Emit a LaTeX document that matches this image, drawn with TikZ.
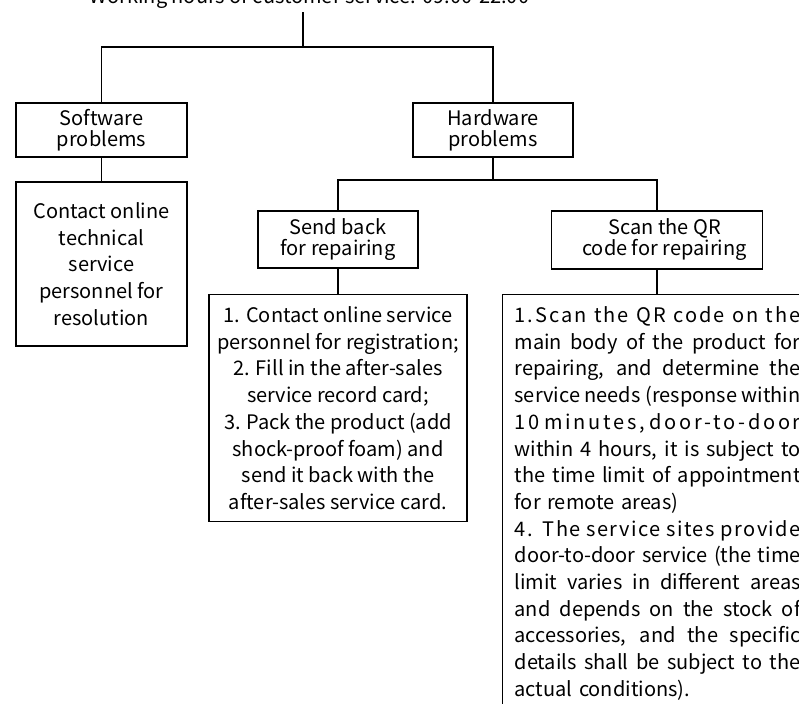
\documentclass[tikz,border=0pt]{standalone}
\usepackage{fontspec}
\setmainfont{Noto Sans CJK SC}
\usetikzlibrary{positioning}
\tikzset{box/.style = {draw, line width = 1.2, inner sep = 0, align = center,
                       font = \fontsize{20}{21}\selectfont}}
\tikzset{tallbox/.style = {box, font = \fontsize{20}{26.7}\selectfont}}
\tikzset{link/.style = {line width = 1.2}}
\newcommand{\spaced}[2]{{\addfontfeature{LetterSpace=#1}#2}}
\newcommand{\fillline}[1]{\makebox[286pt][s]{\spaceskip=\fontdimen2\font plus 1em\relax #1}}

\begin{document}
\begin{tikzpicture}[x = 1pt, y = -1pt]
    \useasboundingbox (0, 0) rectangle (799, 703);

    \node [anchor = base, inner sep = 3, font = \fontsize{20}{21}\selectfont] (hours) at (309.5, 4)
        {Working hours of customer service: 09:00-22:00};
    \coordinate (bar) at (303, 47);
    \coordinate (fork) at (493, 180);

    \node [box, minimum width = 171, minimum height = 54] (soft) at (101.5, 130) {Software\\problems};
    \node [tallbox, minimum width = 171, minimum height = 164] (contact) at (101.5, 264)
        {Contact online\\technical\\service\\personnel for\\resolution};
    \node [box, minimum width = 160, minimum height = 54] (hard) at (493, 130) {Hardware\\problems};

    \node [box, minimum width = 160, minimum height = 57] (send) at (338, 239.5) {Send back\\for repairing};
    \node [box, minimum width = 211, minimum height = 58] (scan) at (657, 240)
        {\hspace*{15pt}Scan the QR\\\hspace*{15pt}code for repairing};

    \node [tallbox, anchor = north, minimum width = 258, inner ysep = 12] (steps) at (338, 294)
        {1. Contact online service\\personnel for registration;\\2. Fill in the after-sales\\service record card;\\
         3. Pack the product (add\\shock-proof foam) and\\send it back with the\\after-sales service card.};
    \node [tallbox, anchor = north west, align = left, text width = 330, inner xsep = 12, inner ysep = 12] (qr) at (502, 294)
        {\fillline{\spaced{10}{1.Scan the QR code on the}}\\\fillline{main body of the product for}\\
         \fillline{repairing, and determine the}\\\fillline{service needs (response within}\\
         \fillline{\spaced{13.5}{10 minutes, door-to-door}}\\\fillline{within 4 hours, it is subject to}\\
         \fillline{the time limit of appointment}\\for remote areas)\\
         \fillline{\spaced{7}{4. The service sites provide}}\\\fillline{door-to-door service (the time}\\
         \fillline{limit varies in different areas}\\\fillline{and depends on the stock of}\\
         \fillline{accessories, and the specific}\\\fillline{details shall be subject to the}\\
         actual conditions).\\ \mbox{}};

    \draw [link] (bar |- hours.south) -- (bar);
    \draw [link] (soft.north) |- (bar) -| (hard.north);
    \draw [link] (soft) -- (contact);
    \draw [link] (hard) -- (fork);
    \draw [link] (send.north) |- (fork) -| (scan.north);
    \draw [link] (send) -- (steps);
    \draw [link] (scan.south) -- (scan.south |- qr.north);
\end{tikzpicture}
\end{document}
